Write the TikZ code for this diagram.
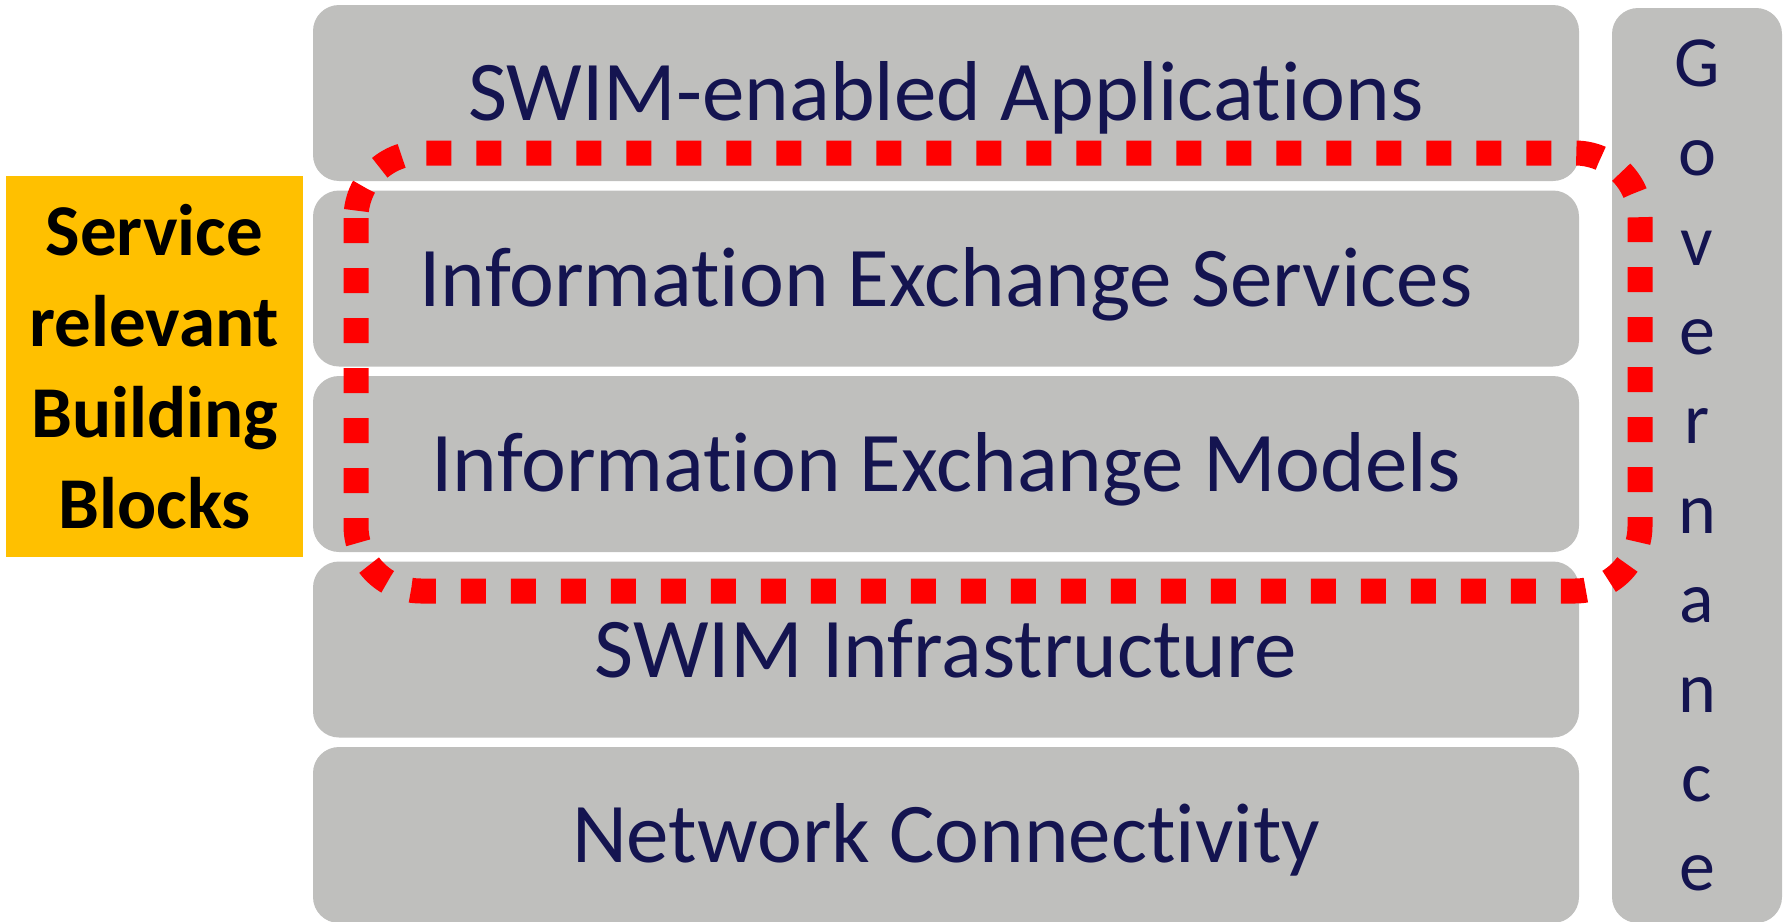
\documentclass[tikz,border=0pt]{standalone}
\usepackage{fontspec}
\setmainfont{Carlito}[Ligatures={NoCommon}]
\usetikzlibrary{positioning}
\definecolor{layergray}{RGB}{191,191,189}
\definecolor{layertext}{RGB}{20,20,80}
\definecolor{sbborange}{RGB}{255,192,0}

\begin{document}
\begin{tikzpicture}[
  x=0.5pt, y=-0.5pt,
  layer/.style={rectangle, rounded corners=13pt, fill=layergray, minimum width=633pt, minimum height=88pt, inner sep=0pt, text=layertext, font=\fontsize{42.5}{51}\selectfont, text height=27.5pt, text depth=0pt},
  govbox/.style={rectangle, rounded corners=13pt, fill=layergray, minimum width=85pt, minimum height=457.5pt, inner sep=0pt, align=center, text=layertext, font=\fontsize{36}{44.7}\selectfont},
  sbbbox/.style={rectangle, fill=sbborange, minimum width=148.5pt, minimum height=190.5pt, inner sep=0pt, align=center, font=\fontsize{36.5}{45.5}\selectfont\bfseries},
  scopeline/.style={draw=red, line width=12.5pt, dash pattern=on 12.5pt off 12.5pt, rounded corners=32.5pt}
]
\useasboundingbox (0,0) rectangle (1783,921);

% layers
\node[layer] (apps) at (946,93) {SWIM-enabled Applications};
\node[layer] (ies) at (946,278.5) {Information Exchange Services};
\node[layer] (iem) at (946,464) {Information Exchange Models};
\node[layer] (infra) at (946,649.5) {SWIM Infrastructure};
\node[layer] (net) at (946,835) {Network Connectivity};

\node[govbox] (gov) at (1697,465.5) {G\\o\\v\\e\\r\\n\\a\\n\\c\\e};
\node[sbbbox] (sbb) at (154.5,366.5) {Service\\relevant\\Building\\Blocks};

% service relevant part
\coordinate (sctl) at (356,153);
\coordinate (scbr) at (1640,591);
\draw[scopeline] (sctl) rectangle (scbr);

\end{tikzpicture}
\end{document}
